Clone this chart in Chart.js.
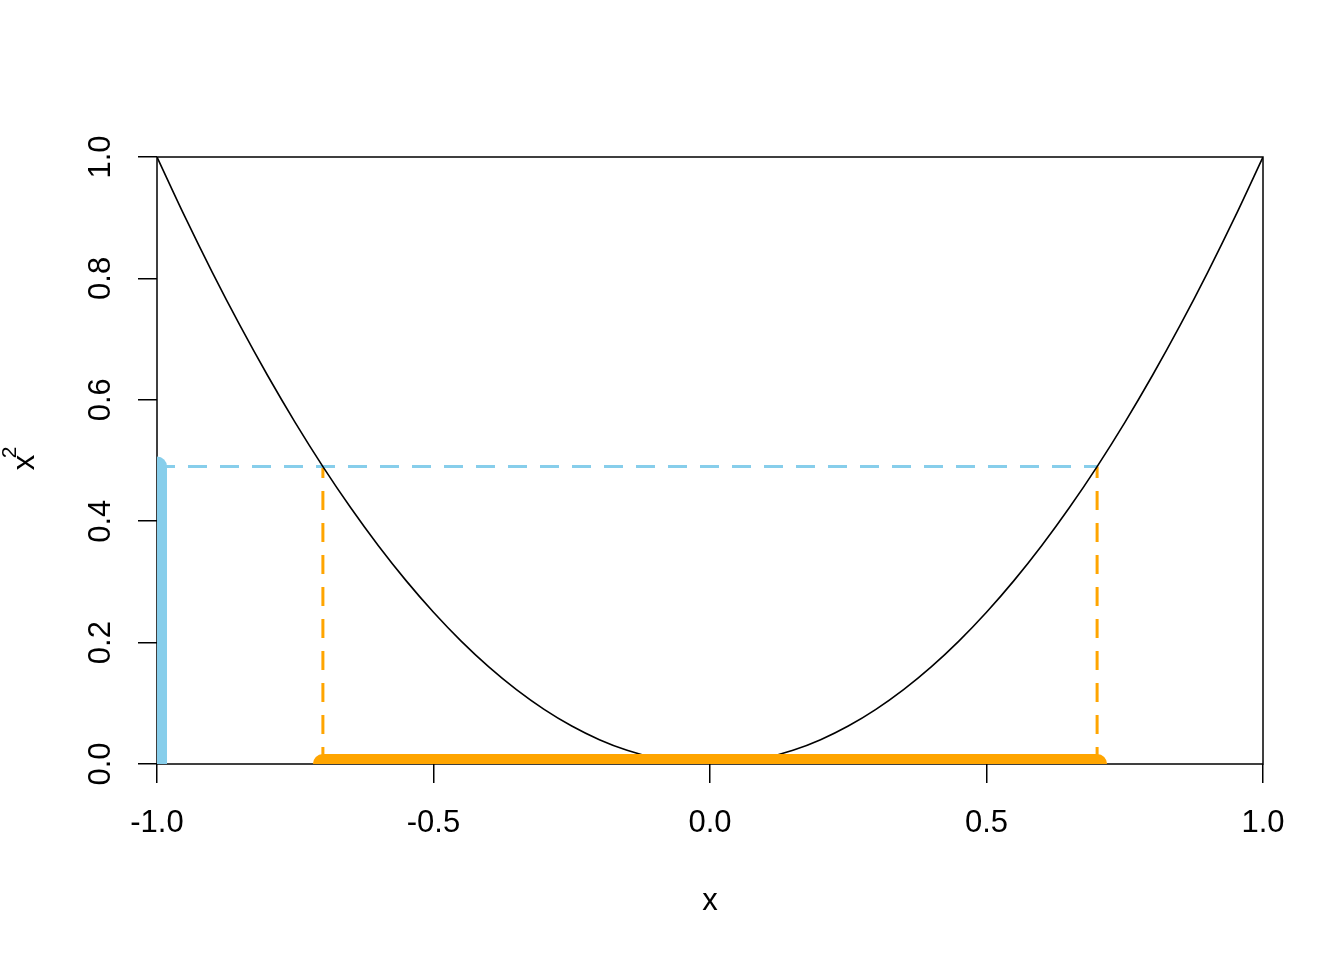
<!DOCTYPE html>
<html>
<head>
<meta charset="utf-8">
<script src="https://cdn.jsdelivr.net/npm/chart.js@4.4.1/dist/chart.umd.min.js"></script>
<style>
  html, body { margin: 0; padding: 0; background: #ffffff; }
  #wrap { width: 1344px; height: 960px; position: relative; }
</style>
</head>
<body>
<div id="wrap"><canvas id="c" width="1344" height="960"></canvas></div>
<script>
// ---- data ----
const curveX = [-1, -0.95, -0.9, -0.85, -0.8, -0.75, -0.7, -0.65, -0.6, -0.55, -0.5, -0.45, -0.4, -0.35, -0.3, -0.25, -0.2, -0.15, -0.1, -0.05, 0,
                0.05, 0.1, 0.15, 0.2, 0.25, 0.3, 0.35, 0.4, 0.45, 0.5, 0.55, 0.6, 0.65, 0.7, 0.75, 0.8, 0.85, 0.9, 0.95, 1];
const curveY = [1, 0.9025, 0.81, 0.7225, 0.64, 0.5625, 0.49, 0.4225, 0.36, 0.3025, 0.25, 0.2025, 0.16, 0.1225, 0.09, 0.0625, 0.04, 0.0225, 0.01, 0.0025, 0,
                0.0025, 0.01, 0.0225, 0.04, 0.0625, 0.09, 0.1225, 0.16, 0.2025, 0.25, 0.3025, 0.36, 0.4225, 0.49, 0.5625, 0.64, 0.7225, 0.81, 0.9025, 1];
const blueBarX = [-1, -1];
const blueBarY = [0, 0.49];
const orangeBarX = [-0.7, 0.7];
const orangeBarY = [0, 0];
const hDashX = [-1, 0.7];
const hDashY = [0.49, 0.49];
const vDashLeftX = [-0.7, -0.7];
const vDashRightX = [0.7, 0.7];
const vDashY = [0, 0.49];
const xTicks = [-1, -0.5, 0, 0.5, 1];
const xTickLabels = ['-1.0', '-0.5', '0.0', '0.5', '1.0'];
const yTicks = [0, 0.2, 0.4, 0.6, 0.8, 1];
const yTickLabels = ['0.0', '0.2', '0.4', '0.6', '0.8', '1.0'];
const xTitle = 'x';
const yTitle = 'x';
const yTitleSup = '2';

const zip = (xs, ys) => xs.map((x, i) => ({ x: x, y: ys[i] }));

const FONT = '"Liberation Sans", Arial, sans-serif';

const rPlot = {
  id: 'rPlot',
  beforeDatasetsDraw(chart) {
    const { ctx, chartArea: a } = chart;
    ctx.save();
    ctx.strokeStyle = '#000';
    ctx.lineWidth = 1.5;
    ctx.strokeRect(a.left, a.top, a.right - a.left, a.bottom - a.top);
    ctx.restore();
  },
  afterDraw(chart) {
    const { ctx } = chart;
    const xs = chart.scales.x, ys = chart.scales.y;
    ctx.save();
    ctx.fillStyle = '#000';
    ctx.font = '31px ' + FONT;
    ctx.textAlign = 'center';
    ctx.textBaseline = 'middle';
    xs.ticks.forEach((t, i) => {
      ctx.fillText(xTickLabels[i], xs.getPixelForValue(t.value), 823);
    });
    ys.ticks.forEach((t, i) => {
      ctx.save();
      ctx.translate(101.5, ys.getPixelForValue(t.value));
      ctx.rotate(-Math.PI / 2);
      ctx.fillText(yTickLabels[i], 0, 0);
      ctx.restore();
    });
    // axis titles
    ctx.font = '31px ' + FONT;
    ctx.fillText(xTitle, (xs.left + xs.right) / 2, 901);
    ctx.save();
    ctx.translate(25.5, 462.5);
    ctx.rotate(-Math.PI / 2);
    ctx.fillText(yTitle, 0, 0);
    ctx.font = '21px ' + FONT;
    ctx.fillText(yTitleSup, 10, -15);
    ctx.restore();
    ctx.restore();
  }
};

new Chart(document.getElementById('c'), {
  type: 'scatter',
  data: {
    datasets: [
      { data: zip(hDashX, hDashY), showLine: true, borderColor: '#87CEEB', borderWidth: 3,
        borderDash: [19, 13], borderDashOffset: 1, pointRadius: 0, clip: 0, order: 5 },
      { data: zip(vDashLeftX, vDashY), showLine: true, borderColor: '#FFA500', borderWidth: 3,
        borderDash: [19, 13], borderDashOffset: 2, pointRadius: 0, clip: 0, order: 5 },
      { data: zip(vDashRightX, vDashY), showLine: true, borderColor: '#FFA500', borderWidth: 3,
        borderDash: [19, 13], borderDashOffset: 2, pointRadius: 0, clip: 0, order: 5 },
      { data: zip(curveX, curveY), showLine: true, borderColor: '#000', borderWidth: 1.6,
        cubicInterpolationMode: 'monotone', pointRadius: 0, clip: 0, order: 4 },
      { data: zip(blueBarX, blueBarY), showLine: true, borderColor: '#87CEEB', borderWidth: 20,
        borderCapStyle: 'round', pointRadius: 0, clip: 0, order: 2 },
      { data: zip(orangeBarX, orangeBarY), showLine: true, borderColor: '#FFA500', borderWidth: 20,
        borderCapStyle: 'round', pointRadius: 0, clip: 0, order: 1 }
    ]
  },
  options: {
    responsive: false,
    animation: false,
    events: [],
    layout: { padding: { top: 157, right: 81, left: 0, bottom: 0 } },
    plugins: { legend: { display: false }, tooltip: { enabled: false }, title: { display: false } },
    scales: {
      x: {
        type: 'linear', min: -1, max: 1,
        afterBuildTicks: s => { s.ticks = xTicks.map(v => ({ value: v })); },
        afterFit: s => { s.height = 196; },
        ticks: { display: false },
        grid: { drawOnChartArea: false, drawTicks: true, tickLength: 19, color: '#000', lineWidth: 1.5 },
        border: { display: false }
      },
      y: {
        type: 'linear', min: 0, max: 1,
        afterBuildTicks: s => { s.ticks = yTicks.map(v => ({ value: v })); },
        afterFit: s => { s.width = 157; },
        ticks: { display: false },
        grid: { drawOnChartArea: false, drawTicks: true, tickLength: 19, color: '#000', lineWidth: 1.5 },
        border: { display: false }
      }
    }
  },
  plugins: [rPlot]
});
</script>
</body>
</html>
